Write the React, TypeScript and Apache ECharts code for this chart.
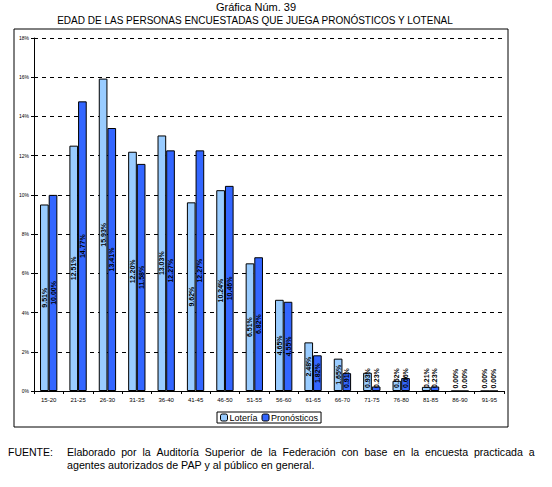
import React, { useEffect, useRef } from "react";
import * as echarts from "echarts";

const categories = ["15-20", "21-25", "26-30", "31-35", "36-40", "41-45", "46-50", "51-55", "56-60", "61-65", "66-70", "71-75", "76-80", "81-85", "86-90", "91-95"];
const loteria = [9.51, 12.51, 15.93, 12.2, 13.03, 9.62, 10.24, 6.51, 4.65, 2.48, 1.65, 0.93, 0.52, 0.21, 0, 0];
const pronosticos = [10.0, 14.77, 13.41, 11.58, 12.27, 12.27, 10.46, 6.82, 4.55, 1.82, 0.91, 0.23, 0.66, 0.23, 0, 0];
const yTicks = { min: 0, max: 18, interval: 2 };

const FONT = "Liberation Sans, Arial, sans-serif";
const footLine1 = "Elaborado por la Auditoría Superior de la Federación con base en la encuesta practicada a";
const footLine2 = "agentes autorizados de PAP y al público en general.";

function toData(values: number[]) {
  return values.map((v) => {
    const small = v < 1.2;
    return {
      value: v,
      label: small
        ? { position: "insideBottom", distance: 3, align: "left", verticalAlign: "middle" }
        : { position: "inside", align: "center", verticalAlign: "middle" },
    };
  });
}

export default function App() {
  const ref = useRef<HTMLDivElement>(null);
  useEffect(() => {
    if (!ref.current) return;
    const chart = echarts.init(ref.current, undefined, { renderer: "svg" });
    const barLabel = {
      show: true,
      rotate: 90,
      fontSize: 7,
      fontWeight: "bold",
      fontFamily: FONT,
      color: "#000",
      formatter: (p: any) => Number(p.value).toFixed(2) + "%",
    };
    chart.setOption({
      animation: false,
      backgroundColor: "#fff",
      textStyle: { fontFamily: FONT },
      grid: { left: 34, right: 48, top: 38, bottom: 96, containLabel: false },
      legend: {
        data: ["Lotería", "Pronósticos"],
        left: 217,
        top: 412,
        orient: "horizontal",
        itemWidth: 7,
        itemHeight: 7,
        itemGap: 4,
        padding: [1, 3, 1, 3],
        borderColor: "#000",
        borderWidth: 1,
        textStyle: { fontSize: 9, color: "#000", fontFamily: FONT, padding: [0, 0, 0, -3] },
        itemStyle: { borderColor: "#000", borderWidth: 1 },
      },
      xAxis: {
        type: "category",
        data: categories,
        axisLine: { lineStyle: { color: "#000", width: 1 } },
        axisTick: { show: true, length: 3, alignWithLabel: false, lineStyle: { color: "#000" } },
        axisLabel: { fontSize: 6, color: "#000", margin: 6, interval: 0, fontFamily: FONT },
      },
      yAxis: {
        type: "value",
        min: yTicks.min,
        max: yTicks.max,
        interval: yTicks.interval,
        axisLine: { show: true, lineStyle: { color: "#000", width: 1 } },
        axisTick: { show: true, length: 3, lineStyle: { color: "#000" } },
        axisLabel: { fontSize: 5, color: "#000", margin: 5, formatter: "{value}%", fontFamily: FONT },
        splitLine: { show: true, lineStyle: { color: "#000", type: [4, 4], width: 1 } },
      },
      series: [
        {
          name: "Lotería",
          type: "bar",
          data: toData(loteria),
          barGap: "0%",
          barCategoryGap: "41%",
          itemStyle: { color: "#99CCFF", borderColor: "#000", borderWidth: 1 },
          label: barLabel,
        },
        {
          name: "Pronósticos",
          type: "bar",
          data: toData(pronosticos),
          barGap: "0%",
          barCategoryGap: "41%",
          itemStyle: { color: "#3366FF", borderColor: "#000", borderWidth: 1 },
          label: barLabel,
        },
      ],
      graphic: [
        {
          type: "rect",
          shape: { x: 14, y: 29, width: 494, height: 398 },
          style: { fill: "none", stroke: "#000", lineWidth: 1 },
          silent: true,
        },
        {
          type: "text",
          x: 256,
          y: 7,
          style: { text: "Gráfica Núm. 39", fontSize: 11, fontFamily: FONT, fill: "#000", align: "center", verticalAlign: "middle" },
        },
        {
          type: "text",
          x: 255,
          y: 20,
          style: {
            text: "EDAD DE LAS PERSONAS ENCUESTADAS QUE JUEGA PRONÓSTICOS Y LOTENAL",
            fontSize: 10,
            fontFamily: FONT,
            fill: "#000",
            align: "center",
            verticalAlign: "middle",
          },
        },
        {
          type: "text",
          x: 8,
          y: 452,
          style: { text: "FUENTE:", fontSize: 10.5, fontFamily: FONT, fill: "#000", align: "left", verticalAlign: "middle" },
        },
        {
          type: "text",
          x: 67,
          y: 452,
          style: {
            text: footLine1.split(" ").join(" \u00A0"),
            fontSize: 10.6,
            fontFamily: FONT,
            fill: "#000",
            align: "left",
            verticalAlign: "middle",
          },
        },
        {
          type: "text",
          x: 67,
          y: 465,
          style: {
            text: footLine2,
            fontSize: 10.7,
            fontFamily: FONT,
            fill: "#000",
            align: "left",
            verticalAlign: "middle",
          },
        },
      ],
    });
    return () => chart.dispose();
  }, []);
  return (
    <div
      ref={ref}
      style={{ position: "absolute", left: 0, top: 0, width: 552, height: 487, background: "#fff" }}
    />
  );
}
